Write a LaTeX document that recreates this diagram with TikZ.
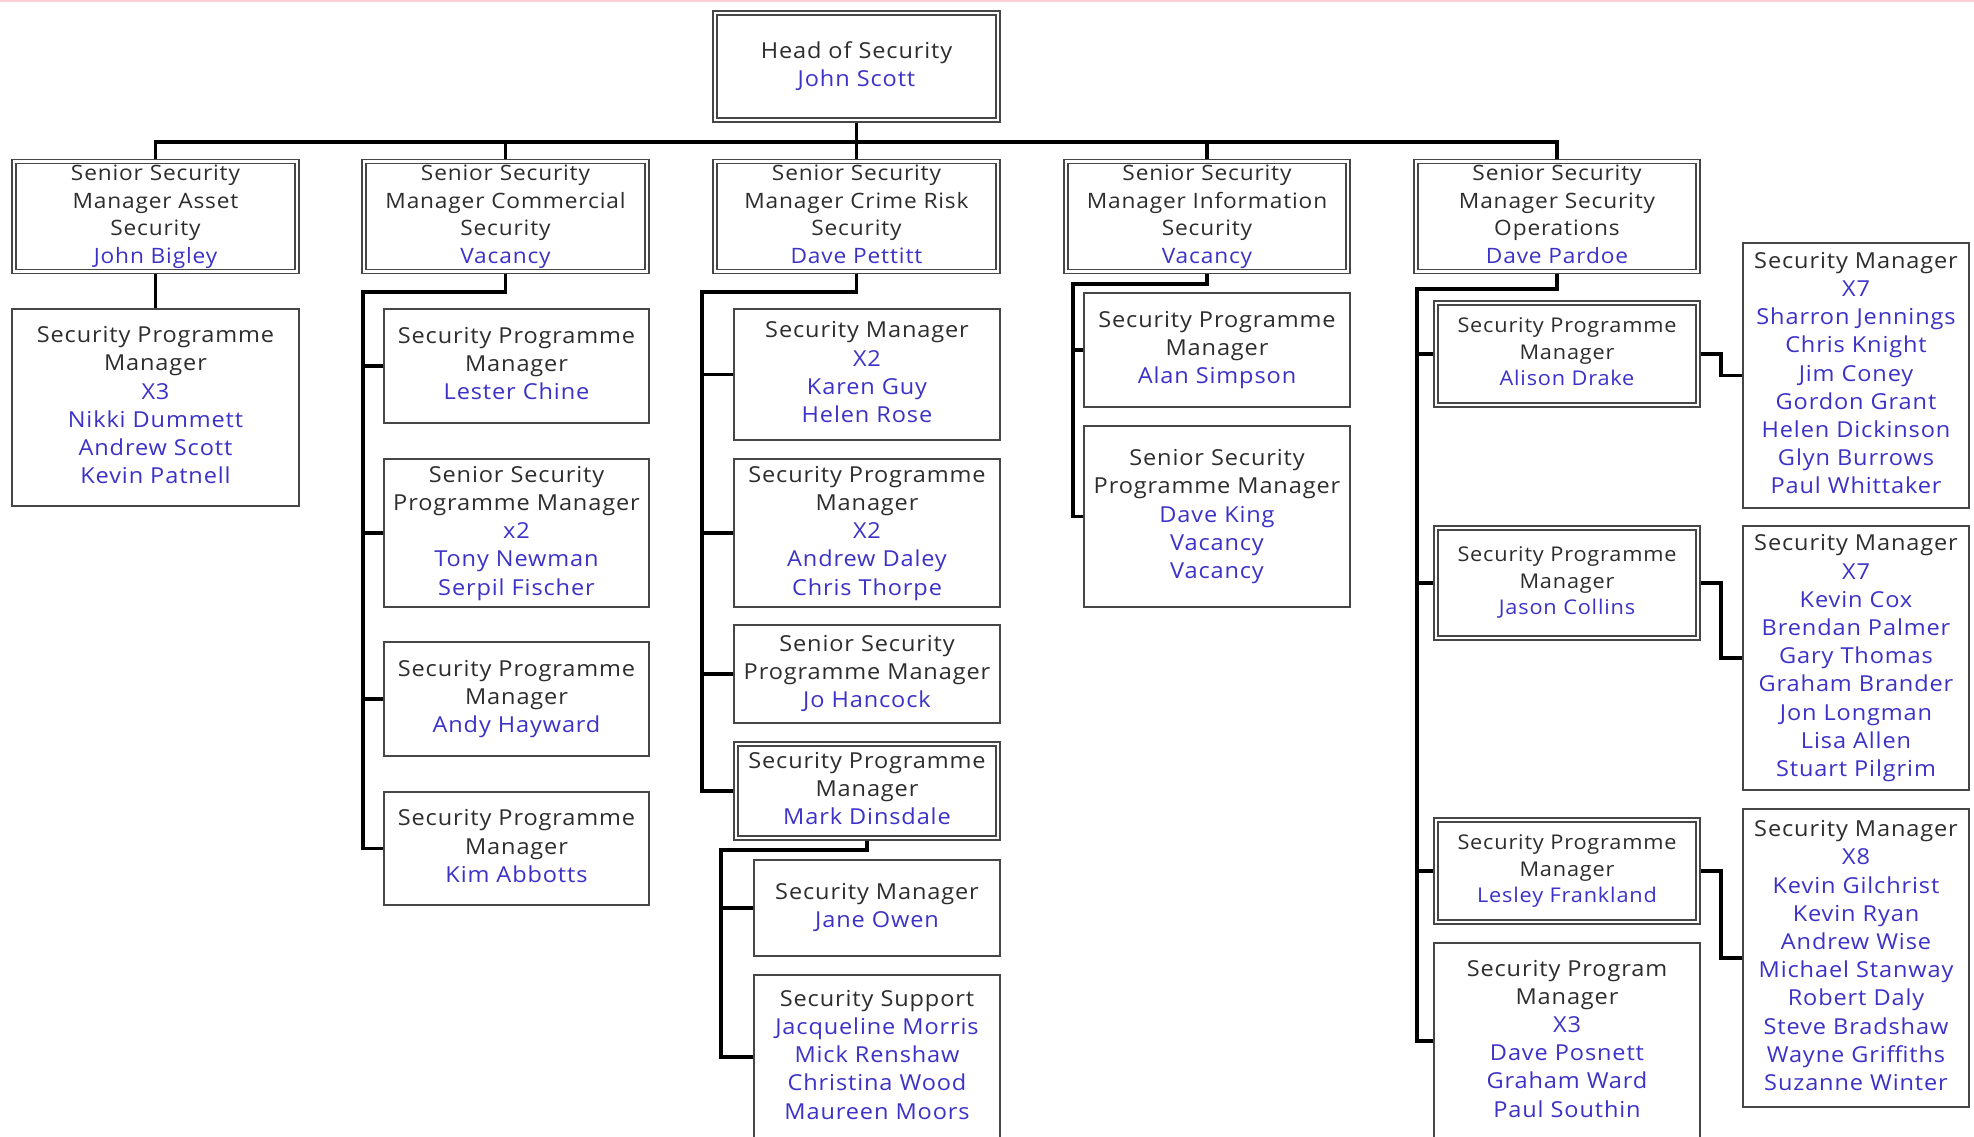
\documentclass[tikz,border=0pt]{standalone}
\usepackage{fontspec}
\setmainfont[LetterSpace=4,FakeStretch=1.07]{Open Sans}
\usetikzlibrary{calc,backgrounds}
\definecolor{nameblue}{RGB}{60,50,200}
\definecolor{titlegray}{RGB}{45,45,45}
\definecolor{boxgray}{RGB}{70,70,70}
\definecolor{topline}{RGB}{250,205,215}
\newcommand{\nm}[1]{\textcolor{nameblue}{#1}}
% single-border box from its outer extents
\newcommand{\boxS}[7]{%
  \pgfmathsetmacro{\bxcx}{(#3+#4)/2}%
  \pgfmathsetmacro{\bxcy}{(#5+#6)/2}%
  \pgfmathsetmacro{\bxw}{#4-#3-2}%
  \pgfmathsetmacro{\bxh}{#6-#5-2}%
  \node[#1, minimum width=\bxw pt, minimum height=\bxh pt] (#2) at (\bxcx,\bxcy) {\strut#7\strut};}
% double-border box from its outer extents
\newcommand{\boxD}[7]{%
  \pgfmathsetmacro{\bxcx}{(#3+#4)/2}%
  \pgfmathsetmacro{\bxcy}{(#5+#6)/2}%
  \pgfmathsetmacro{\bxw}{#4-#3-5.6}%
  \pgfmathsetmacro{\bxh}{#6-#5-5.6}%
  \node[#1, minimum width=\bxw pt, minimum height=\bxh pt] (#2) at (\bxcx,\bxcy) {\strut#7\strut};}
\begin{document}
\begin{tikzpicture}[x=1pt,y=-1pt,
  base/.style={draw=boxgray, line width=2pt, fill=white, inner sep=0pt,
    align=center, text=titlegray, font=\fontsize{22}{28.2}\selectfont, anchor=center},
  single/.style={base},
  dbl/.style={base, double=white, double distance=2.4pt, line width=1.6pt},
  small/.style={font=\fontsize{20.3}{26.3}\selectfont},
  lvl/.style={font=\fontsize{21.2}{27.4}\selectfont},
  conn/.style={draw=black, line width=3.2pt}]
\useasboundingbox (0,0) rectangle (1974,1137);

% level 0 and 1
\boxD{dbl}{head}{712}{1001}{10}{123}{Head of Security\\\nm{John Scott}}
\boxD{dbl,lvl}{A}{11}{300}{159}{274}{Senior Security\\Manager Asset\\Security\\\nm{John Bigley}}
\boxD{dbl,lvl}{B}{361}{650}{159}{274}{Senior Security\\Manager Commercial\\Security\\\nm{Vacancy}}
\boxD{dbl,lvl}{C}{712}{1001}{159}{274}{Senior Security\\Manager Crime Risk\\Security\\\nm{Dave Pettitt}}
\boxD{dbl,lvl}{D}{1063}{1351}{159}{274}{Senior Security\\Manager Information\\Security\\\nm{Vacancy}}
\boxD{dbl,lvl}{E}{1413}{1701}{159}{274}{Senior Security\\Manager Security\\Operations\\\nm{Dave Pardoe}}

% column A
\boxS{single}{A1}{11}{300}{308}{507}{Security Programme\\Manager\\\nm{X3}\\\nm{Nikki Dummett}\\\nm{Andrew Scott}\\\nm{Kevin Patnell}}

% column B
\boxS{single}{B1}{383}{650}{308}{424}{Security Programme\\Manager\\\nm{Lester Chine}}
\boxS{single}{B2}{383}{650}{458}{608}{Senior Security\\Programme Manager\\\nm{x2}\\\nm{Tony Newman}\\\nm{Serpil Fischer}}
\boxS{single}{B3}{383}{650}{641}{757}{Security Programme\\Manager\\\nm{Andy Hayward}}
\boxS{single}{B4}{383}{650}{791}{906}{Security Programme\\Manager\\\nm{Kim Abbotts}}

% column C
\boxS{single}{C1}{733}{1001}{308}{441}{Security Manager\\\nm{X2}\\\nm{Karen Guy}\\\nm{Helen Rose}}
\boxS{single}{C2}{733}{1001}{458}{608}{Security Programme\\Manager\\\nm{X2}\\\nm{Andrew Daley}\\\nm{Chris Thorpe}}
\boxS{single}{C3}{733}{1001}{624}{724}{Senior Security\\Programme Manager\\\nm{Jo Hancock}}
\boxD{dbl}{C4}{733}{1001}{741}{841}{Security Programme\\Manager\\\nm{Mark Dinsdale}}
\boxS{single}{C5}{753}{1001}{859}{957}{Security Manager\\\nm{Jane Owen}}
\boxS{single}{C6}{753}{1001}{974}{1140}{Security Support\\\nm{Jacqueline Morris}\\\nm{Mick Renshaw}\\\nm{Christina Wood}\\\nm{Maureen Moors}}

% column D
\boxS{single}{D1}{1083}{1351}{292}{408}{Security Programme\\Manager\\\nm{Alan Simpson}}
\boxS{single}{D2}{1083}{1351}{425}{608}{Senior Security\\Programme Manager\\\nm{Dave King}\\\nm{Vacancy}\\\nm{Vacancy}}

% column E
\boxD{dbl,small}{E1}{1433}{1701}{300}{408}{Security Programme\\Manager\\\nm{Alison Drake}}
\boxD{dbl,small}{E2}{1433}{1701}{525}{641}{Security Programme\\Manager\\\nm{Jason Collins}}
\boxD{dbl,small}{E3}{1433}{1701}{817}{925}{Security Programme\\Manager\\\nm{Lesley Frankland}}
\boxS{single}{E4}{1433}{1701}{942}{1140}{Security Program\\Manager\\\nm{X3}\\\nm{Dave Posnett}\\\nm{Graham Ward}\\\nm{Paul Southin}}

% security manager groups
\boxS{single}{SM1}{1742}{1970}{242}{509}{Security Manager\\\nm{X7}\\\nm{Sharron Jennings}\\\nm{Chris Knight}\\\nm{Jim Coney}\\\nm{Gordon Grant}\\\nm{Helen Dickinson}\\\nm{Glyn Burrows}\\\nm{Paul Whittaker}}
\boxS{single}{SM2}{1742}{1970}{525}{791}{Security Manager\\\nm{X7}\\\nm{Kevin Cox}\\\nm{Brendan Palmer}\\\nm{Gary Thomas}\\\nm{Graham Brander}\\\nm{Jon Longman}\\\nm{Lisa Allen}\\\nm{Stuart Pilgrim}}
\boxS{single}{SM3}{1742}{1970}{808}{1108}{Security Manager\\\nm{X8}\\\nm{Kevin Gilchrist}\\\nm{Kevin Ryan}\\\nm{Andrew Wise}\\\nm{Michael Stanway}\\\nm{Robert Daly}\\\nm{Steve Bradshaw}\\\nm{Wayne Griffiths}\\\nm{Suzanne Winter}}

\coordinate (bus) at (0,142);
\coordinate (Bel) at (363,292);
\coordinate (Cel) at (702,292);
\coordinate (C4el) at (721,850);
\coordinate (Del) at (1073,284);
\coordinate (Eel) at (1417,289);

\begin{scope}[on background layer]
  \fill[white] (0,0) rectangle (1974,1137);
  \fill[topline] (0,0) rectangle (1974,2.5);
  \draw[conn] (head.south) -- (head.south |- bus);
  \draw[conn] (A.north) -- (A.north |- bus) -- (E.north |- bus) -- (E.north);
  \foreach \n in {B,C,D} \draw[conn] (\n.north) -- (\n.north |- bus);
  \draw[conn] (A.south) -- (A1.north);
  \draw[conn] (B.south) |- (Bel) |- (B4.west);
  \foreach \n in {B1,B2,B3} \draw[conn] (\n.west) -- (\n.west -| Bel);
  \draw[conn] (C.south) |- (Cel) |- (C4.west);
  \foreach \n in {C1,C2,C3} \draw[conn] (\n.west) -- (\n.west -| Cel);
  \draw[conn] (C4.south) |- (C4el) |- (C6.west);
  \draw[conn] (C5.west) -- (C5.west -| C4el);
  \draw[conn] (D.south) |- (Del) |- (D2.west);
  \draw[conn] (D1.west) -- (D1.west -| Del);
  \draw[conn] (E.south) |- (Eel) |- (E4.west);
  \foreach \n in {E1,E2,E3} \draw[conn] (\n.west) -- (\n.west -| Eel);
  \draw[conn] (E1.east) -- ([xshift=22pt]E1.east) |- (SM1.west);
  \draw[conn] (E2.east) -- ([xshift=22pt]E2.east) |- (SM2.west);
  \draw[conn] (E3.east) -- ([xshift=22pt]E3.east) |- (SM3.west);
\end{scope}
\end{tikzpicture}
\end{document}
